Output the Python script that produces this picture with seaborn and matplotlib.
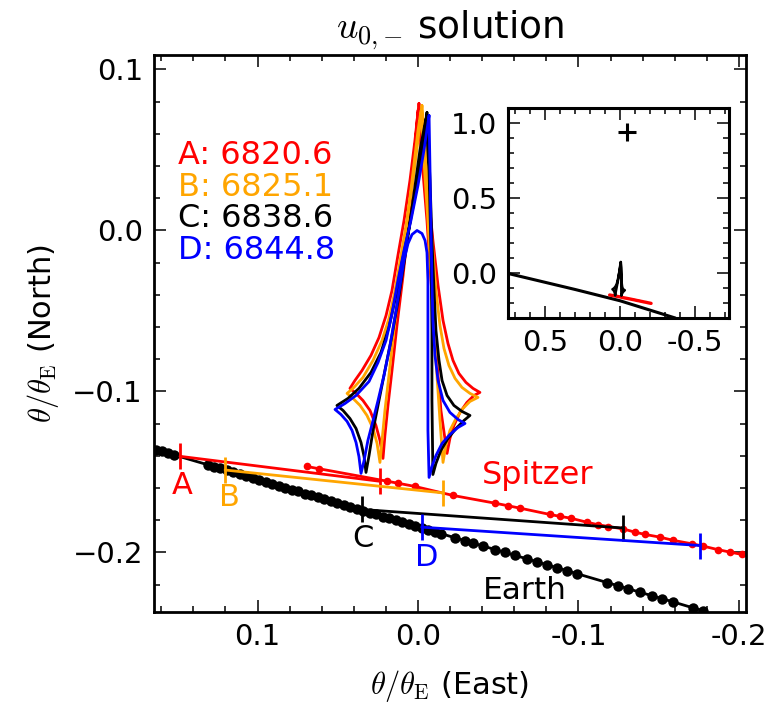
import matplotlib
matplotlib.use("Agg")
import matplotlib.pyplot as plt
from matplotlib.ticker import MultipleLocator
import seaborn as sns

# ---------------- data ----------------
# Earth trajectory (black dots)
earth_x = [0.167, 0.1632, 0.1595, 0.1558, 0.152,
           0.1308, 0.1271, 0.1234, 0.119, 0.1153, 0.1109, 0.1072, 0.1028, 0.0991, 0.0947,
           0.091, 0.0866, 0.0829, 0.0785, 0.0748, 0.0704, 0.0667, 0.0623, 0.0586, 0.0542,
           0.0505, 0.0461, 0.0424, 0.038, 0.0343, 0.0299, 0.0262, 0.0218, 0.0181, 0.0137,
           0.01, 0.0056, 0.0019, -0.0025, -0.0062, -0.0106, -0.0143,
           -0.0231, -0.0293, -0.0343, -0.0405, -0.048, -0.0542, -0.0604, -0.0679, -0.0741,
           -0.0804, -0.0866, -0.0928, -0.0991, -0.1178, -0.1246, -0.1308, -0.1383, -0.1458,
           -0.152, -0.1589, -0.1713, -0.1776]
earth_y = [-0.1350, -0.1361, -0.1372, -0.1383, -0.1394,
           -0.1456, -0.1467, -0.1478, -0.1491, -0.1502, -0.1515, -0.1526, -0.1539, -0.1550, -0.1562,
           -0.1573, -0.1586, -0.1597, -0.1610, -0.1621, -0.1634, -0.1645, -0.1658, -0.1669, -0.1682,
           -0.1692, -0.1705, -0.1716, -0.1729, -0.1740, -0.1753, -0.1764, -0.1777, -0.1788, -0.1801,
           -0.1811, -0.1824, -0.1835, -0.1848, -0.1859, -0.1872, -0.1883,
           -0.1909, -0.1927, -0.1942, -0.1960, -0.1982, -0.2000, -0.2018, -0.2040, -0.2058,
           -0.2077, -0.2095, -0.2113, -0.2132, -0.2187, -0.2207, -0.2225, -0.2247, -0.2269,
           -0.2287, -0.2307, -0.2344, -0.2362]

# Spitzer trajectory (red dots)
spitzer_x = [0.0693, 0.0617, 0.0195, 0.0125, 0.0019, -0.0218, -0.0480, -0.0561, -0.0636,
             -0.0822, -0.0885, -0.0951, -0.1051, -0.1123, -0.1186, -0.1275, -0.1352, -0.1414,
             -0.1508, -0.1591, -0.1705, -0.1778, -0.1871, -0.1944, -0.2017, -0.2081]
spitzer_y = [-0.1466, -0.1480, -0.1557, -0.1570, -0.1590, -0.1646, -0.1694, -0.1710, -0.1725,
             -0.1764, -0.1776, -0.1787, -0.1812, -0.1828, -0.1839, -0.1853, -0.1874, -0.1888,
             -0.1905, -0.1925, -0.1946, -0.1961, -0.1983, -0.1998, -0.2012, -0.2025]

# wider Earth track shown in the inset
earth_wide_x = [0.75, 0.30, 0.0, -0.37]
earth_wide_y = [-0.003, -0.11, -0.185, -0.30]

# solutions: labels, chi2, colours, Earth->Spitzer segments
sol_labels = ["A", "B", "C", "D"]
sol_chi2 = ["6820.6", "6825.1", "6838.6", "6844.8"]
sol_colors = ["#ff0000", "#ffa500", "#000000", "#0000ff"]
seg_x = [[0.1483, 0.0237], [0.1202, -0.0154], [0.0351, -0.1275], [-0.0023, -0.1757]]
seg_y = [[-0.1403, -0.1558], [-0.1488, -0.1630], [-0.1733, -0.1848], [-0.1843, -0.1957]]
letter_x = [0.1472, 0.1178, 0.0343, -0.0055]
letter_y = [-0.1584, -0.1658, -0.1913, -0.2031]

# caustics (closed curves)
caus_A_x = [-0.0006, 0.0019, 0.005, 0.0087, 0.0125, 0.0162, 0.0199, 0.0243, 0.0293, 0.0349,
            0.0393, 0.0424, 0.0386, 0.0343, 0.0299, 0.0262, 0.0237, 0.0218, 0.0206, 0.0187,
            0.0162, 0.0131, 0.0093, 0.0056, 0.0025, 0.0, -0.0025, -0.0056, -0.0081, -0.0112,
            -0.0143, -0.0181, -0.0199, -0.0224, -0.0262, -0.0305, -0.0349, -0.0386, -0.0343,
            -0.0299, -0.0255, -0.0218, -0.0187, -0.0156, -0.0125, -0.0093, -0.0056, -0.0006]
caus_A_y = [0.0789, 0.0559, 0.0311, 0.0062, -0.0155, -0.0373, -0.0528, -0.0665, -0.0776, -0.087,
            -0.0932, -0.0981, -0.1012, -0.1056, -0.1118, -0.1211, -0.1304, -0.1416, -0.1273,
            -0.1087, -0.087, -0.059, -0.028, 0.0062, 0.0435, 0.0745, 0.0435, 0.0062, -0.0311,
            -0.0745, -0.1118, -0.1385, -0.1292, -0.1211, -0.113, -0.1068, -0.1025, -0.1006,
            -0.0981, -0.0944, -0.0888, -0.0807, -0.0702, -0.0559, -0.0342, -0.0062, 0.0311, 0.0789]
caus_B_x = [-0.0025, 0.0, 0.0031, 0.0069, 0.0106, 0.0143, 0.0181, 0.0224, 0.028, 0.0343,
            0.0399, 0.0442, 0.0405, 0.0361, 0.0318, 0.028, 0.0255, 0.0237, 0.0224, 0.0206,
            0.0181, 0.015, 0.0112, 0.0075, 0.0037, 0.0, -0.0019, -0.0037, -0.0062, -0.0087,
            -0.0112, -0.0137, -0.0156, -0.0174, -0.0199, -0.0237, -0.028, -0.0324, -0.0374,
            -0.0324, -0.0274, -0.0231, -0.0193, -0.0162, -0.0137, -0.0112, -0.0087, -0.0062,
            -0.0025]
caus_B_y = [0.0776, 0.0559, 0.0311, 0.0062, -0.0155, -0.0373, -0.0547, -0.0683, -0.0807, -0.0913,
            -0.0975, -0.1012, -0.1043, -0.1087, -0.1149, -0.123, -0.1323, -0.1441, -0.1304,
            -0.1118, -0.0901, -0.0621, -0.0311, 0.0, 0.0311, 0.0621, 0.0745, 0.0435, 0.0062,
            -0.0373, -0.0807, -0.118, -0.1441, -0.1335, -0.1242, -0.1168, -0.1106, -0.1062,
            -0.1037, -0.1012, -0.0975, -0.0919, -0.0839, -0.0733, -0.059, -0.0373, -0.0062,
            0.0311, 0.0776]
caus_C_x = [-0.0056, -0.0025, 0.0012, 0.0056, 0.01, 0.0137, 0.0181, 0.0231, 0.0293, 0.0368,
            0.0436, 0.0505, 0.0467, 0.0424, 0.0386, 0.0355, 0.0336, 0.0324, 0.0305, 0.028,
            0.0243, 0.0206, 0.0162, 0.0118, 0.0075, 0.0031, -0.0012, -0.005, -0.0069, -0.0081,
            -0.0087, -0.0087, -0.0093, -0.0112, -0.0143, -0.0187, -0.0237, -0.0287, -0.0324,
            -0.0274, -0.0224, -0.0181, -0.015, -0.0131, -0.0112, -0.01, -0.0087, -0.0075, -0.0056]
caus_C_y = [0.0733, 0.0497, 0.0248, 0.0012, -0.0199, -0.0404, -0.0602, -0.0758, -0.0882, -0.0981,
            -0.1043, -0.1087, -0.1118, -0.1168, -0.123, -0.1317, -0.1404, -0.1503, -0.1398,
            -0.1242, -0.1056, -0.087, -0.0652, -0.0404, -0.0124, 0.0186, 0.0497, 0.0696, 0.0373,
            -0.0124, -0.0621, -0.1056, -0.1516, -0.1447, -0.1366, -0.1292, -0.123, -0.118,
            -0.1149, -0.1124, -0.1087, -0.1025, -0.0932, -0.0807, -0.0621, -0.0373, -0.0062,
            0.0311, 0.0733]
caus_D_x = [-0.0069, -0.0037, 0.0, 0.0044, 0.0087, 0.0125, 0.0162, 0.0199, 0.0249, 0.0305,
            0.0386, 0.0455, 0.0517, 0.048, 0.0442, 0.0411, 0.0386, 0.0368, 0.0355, 0.0336,
            0.0312, 0.028, 0.0249, 0.0212, 0.0174, 0.0137, 0.0112, 0.0087, 0.0062, 0.0037,
            0.0006, -0.0025, -0.0044, -0.0056, -0.0062, -0.0062, -0.0062, -0.0062, -0.0069,
            -0.0087, -0.0112, -0.015, -0.0199, -0.0249, -0.0293, -0.0249, -0.0199, -0.0156,
            -0.0125, -0.0106, -0.0093, -0.0087, -0.0081, -0.0075, -0.0069]
caus_D_y = [0.0714, 0.0497, 0.028, 0.0062, -0.0124, -0.0311, -0.0516, -0.0683, -0.082, -0.0938,
            -0.1025, -0.1075, -0.1112, -0.1143, -0.1186, -0.1242, -0.1317, -0.1404, -0.1509,
            -0.1429, -0.1304, -0.118, -0.1056, -0.0901, -0.0714, -0.0497, -0.0342, -0.0186,
            -0.0081, -0.0025, 0.0, -0.0019, -0.0062, -0.0137, -0.0311, -0.0621, -0.0932,
            -0.1242, -0.1534, -0.1466, -0.1398, -0.1323, -0.1267, -0.1224, -0.1199, -0.1174,
            -0.113, -0.1056, -0.0932, -0.0776, -0.0559, -0.0311, 0.0, 0.0373, 0.0714]

plus_x = [-0.05]
plus_y = [0.94]

x_ticks = [0.1, 0.0, -0.1, -0.2]
x_ticklabels = ["0.1", "0.0", "-0.1", "-0.2"]
y_ticks = [0.1, 0.0, -0.1, -0.2]
y_ticklabels = ["0.1", "0.0", "\u22120.1", "\u22120.2"]
in_x_ticks = [0.5, 0.0, -0.5]
in_x_ticklabels = ["0.5", "0.0", "-0.5"]
in_y_ticks = [0.0, 0.5, 1.0]
in_y_ticklabels = ["0.0", "0.5", "1.0"]

# ---------------- style ----------------
sns.set_style("ticks")
plt.rcParams.update({
    "font.family": ["DejaVu Sans"],
    "mathtext.fontset": "cm",
    "text.color": "black", "axes.labelcolor": "black",
    "xtick.labelcolor": "black", "ytick.labelcolor": "black",
    "xtick.direction": "in", "ytick.direction": "in",
    "xtick.top": True, "ytick.right": True,
    "xtick.major.size": 8.5, "ytick.major.size": 8.5,
    "xtick.minor.size": 4.5, "ytick.minor.size": 4.5,
    "xtick.major.width": 1.1, "ytick.major.width": 1.1,
    "xtick.minor.width": 1.1, "ytick.minor.width": 1.1,
    "xtick.color": "black", "ytick.color": "black",
    "axes.linewidth": 2.0, "axes.edgecolor": "black",
})

fig = plt.figure(figsize=(7.84, 7.06), dpi=100)
ax = fig.add_axes([154 / 784, 1 - 612 / 706, (746 - 154) / 784, (612 - 55) / 706])

LW = 2.0
caustics = [(caus_A_x, caus_A_y), (caus_B_x, caus_B_y), (caus_C_x, caus_C_y), (caus_D_x, caus_D_y)]
for (cx, cy), col in zip(caustics, sol_colors):
    sns.lineplot(x=cx, y=cy, sort=False, estimator=None, color=col, lw=LW, ax=ax)

# trajectories
sns.lineplot(x=earth_x, y=earth_y, sort=False, estimator=None, color="black", lw=LW,
             marker="o", markersize=7.5, mec="black", mew=0, ax=ax)
sns.lineplot(x=spitzer_x, y=spitzer_y, sort=False, estimator=None, color="#ff0000", lw=LW,
             marker="o", markersize=5.5, mec="#ff0000", mew=0, ax=ax)

# solution segments
for sx, sy, col, lab, lx, ly in zip(seg_x, seg_y, sol_colors, sol_labels, letter_x, letter_y):
    sns.lineplot(x=sx, y=sy, sort=False, estimator=None, color=col, lw=LW,
                 marker="|", markersize=19, mew=2.0, mec=col, ax=ax)
    ax.text(lx, ly, lab, color=col, fontsize=22, ha="center", va="center")

ax.text(-0.0748, -0.1522, "Spitzer", color="#ff0000", fontsize=23, ha="center", va="center")
ax.text(-0.0667, -0.2236, "Earth", color="black", fontsize=22.5, ha="center", va="center")

leg_y = [0.0466, 0.0269, 0.0075, -0.0124]
for lab, chi, col, yy in zip(sol_labels, sol_chi2, sol_colors, leg_y):
    ax.text(0.1495, yy, f"{lab}: {chi}", color=col, fontsize=23, ha="left", va="center")

ax.set_xlim(0.1645, -0.2044)
ax.set_ylim(-0.237, 0.109)
ax.set_xticks(x_ticks)
ax.set_xticklabels(x_ticklabels)
ax.set_yticks(y_ticks)
ax.set_yticklabels(y_ticklabels)
ax.xaxis.set_minor_locator(MultipleLocator(0.02))
ax.yaxis.set_minor_locator(MultipleLocator(0.02))
ax.tick_params(axis="both", which="major", labelsize=21, pad=8, labelcolor="black")
ax.tick_params(which="both", top=True, right=True)
ax.set_xlabel(r"$\theta/\theta_{\rm E}$ (East)", fontsize=22, labelpad=12, color="black")
ax.set_ylabel(r"$\theta/\theta_{\rm E}$ (North)", fontsize=22, labelpad=8, color="black")
ax.set_title(r"$u_{0,{-}}$ solution", fontsize=27, pad=12, color="black")

# ---------------- inset ----------------
ax2 = fig.add_axes([508 / 784, 1 - 318 / 706, (729 - 508) / 784, (318 - 108) / 706])
sns.lineplot(x=earth_wide_x, y=earth_wide_y, sort=False, estimator=None, color="black", lw=2.2, ax=ax2)
sns.lineplot(x=spitzer_x, y=spitzer_y, sort=False, estimator=None, color="#ff0000", lw=2.4, ax=ax2)
sns.lineplot(x=caus_C_x, y=caus_C_y, sort=False, estimator=None, color="black", lw=1.8, ax=ax2)
sns.scatterplot(x=plus_x, y=plus_y, marker="+", s=170, color="black", linewidth=2.2, ax=ax2)
ax2.set_xlim(0.75, -0.73)
ax2.set_ylim(-0.3, 1.1)
ax2.set_xticks(in_x_ticks)
ax2.set_xticklabels(in_x_ticklabels)
ax2.set_yticks(in_y_ticks)
ax2.set_yticklabels(in_y_ticklabels)
ax2.xaxis.set_minor_locator(MultipleLocator(0.1))
ax2.yaxis.set_minor_locator(MultipleLocator(0.1))
ax2.tick_params(axis="both", which="major", labelsize=21, pad=8, labelcolor="black")
ax2.tick_params(which="both", top=True, right=True)
for sp in ax2.spines.values():
    sp.set_linewidth(2.2)

fig.savefig("out.png", dpi=100)
